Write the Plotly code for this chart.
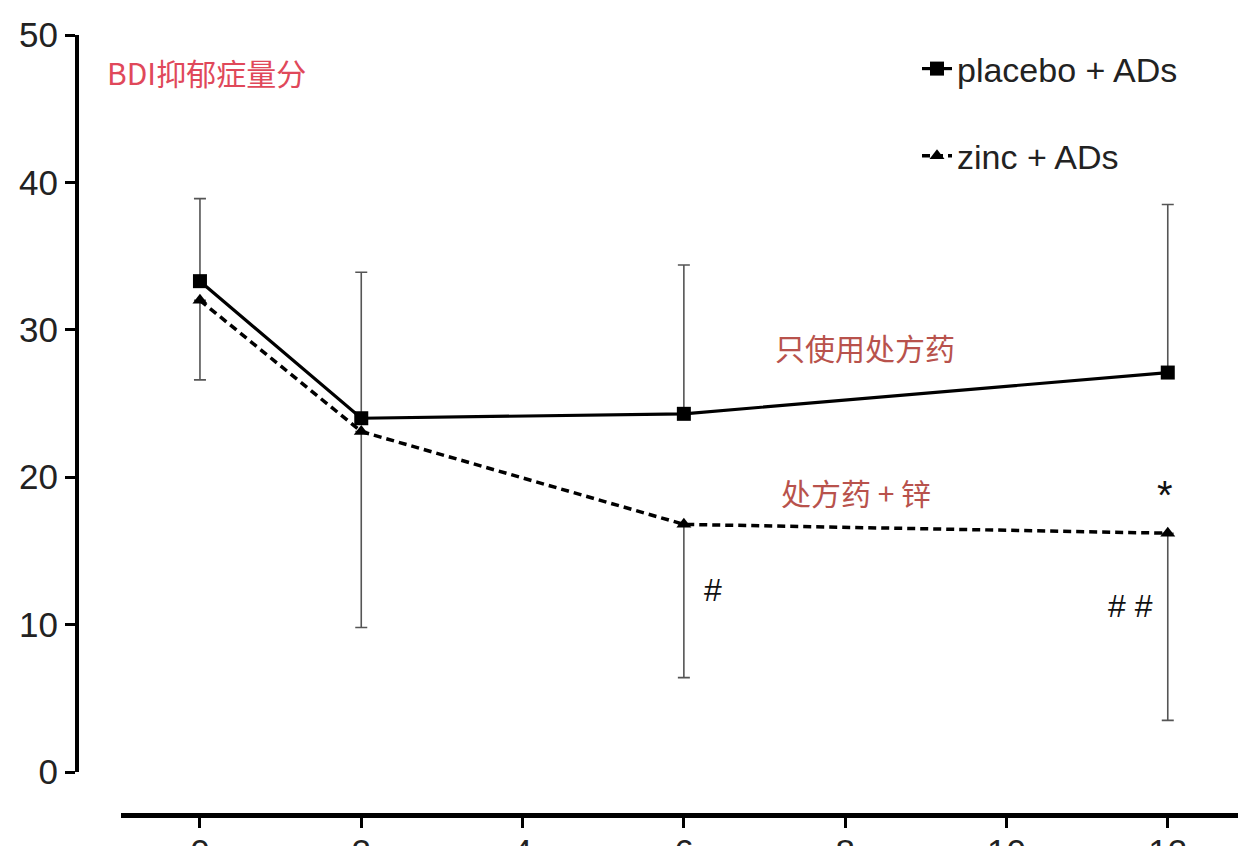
import plotly.graph_objects as go

weeks = [0, 2, 6, 12]
placebo_mean = [33.3, 24.0, 24.3, 27.1]
placebo_upper = [38.9, 33.9, 34.4, 38.5]
zinc_mean = [32.0, 23.1, 16.8, 16.2]
zinc_lower = [26.6, 9.8, 6.4, 3.5]
x_ticks = [0, 2, 4, 6, 8, 10, 12]
y_ticks = [0, 10, 20, 30, 40, 50]

placebo_plus = [u - m for u, m in zip(placebo_upper, placebo_mean)]
zinc_minus = [m - l for m, l in zip(zinc_mean, zinc_lower)]

FONT = "Liberation Sans, Arial, sans-serif"
CJK = "Noto Sans CJK SC, sans-serif"

fig = go.Figure()
fig.add_trace(go.Scatter(
    x=weeks, y=zinc_mean, name="zinc + ADs", mode="lines+markers",
    line=dict(color="black", width=3.5, dash="8px,5px"),
    marker=dict(symbol="triangle-up", size=13, color="black"),
    error_y=dict(type="data", array=[0] * 4, arrayminus=zinc_minus,
                 color="#555555", thickness=1.6, width=6),
    legendgroup="b", legendrank=2, cliponaxis=False,
))
fig.add_trace(go.Scatter(
    x=weeks, y=placebo_mean, name="placebo + ADs", mode="lines+markers",
    line=dict(color="black", width=3.2),
    marker=dict(symbol="square", size=14, color="black"),
    error_y=dict(type="data", array=placebo_plus, arrayminus=[0] * 4,
                 color="#555555", thickness=1.6, width=6),
    legendgroup="a", legendrank=1, cliponaxis=False,
))

OFF = 8  # page body margin
W, H = 1246 - OFF, 846 - OFF
L, R, T, B = 77 - OFF, 0, 35 - OFF, 846 - 815
pw, ph = W - L - R, H - T - B


def px_x(p):
    return (p - OFF - L) / pw


def px_y(p):
    return (H - B - (p - OFF)) / ph


fig.update_layout(
    width=W, height=H,
    margin=dict(l=L, r=R, t=T, b=B, autoexpand=False),
    plot_bgcolor="white", paper_bgcolor="white",
    font=dict(family=FONT, color="#222222"),
    showlegend=True,
    legend=dict(x=px_x(917), y=px_y(40), xanchor="left", yanchor="top",
                font=dict(size=34, family=FONT, color="#222222"),
                tracegroupgap=40, bgcolor="rgba(0,0,0,0)"),
    xaxis=dict(
        range=[-0.979, 12.97], domain=[px_x(121), 1],
        anchor="free", position=0, automargin=False,
        tickvals=x_ticks, ticktext=[str(v) for v in x_ticks],
        showline=True, linecolor="black", linewidth=5,
        ticks="outside", ticklen=10, tickwidth=3, tickcolor="black",
        ticklabelstandoff=-6,
        showgrid=False, zeroline=False,
        tickfont=dict(size=35, family=FONT, color="#222222"),
    ),
    yaxis=dict(
        range=[0, 50], domain=[px_y(772), 1],
        anchor="free", position=0, automargin=False,
        tickvals=y_ticks, ticktext=[str(v) for v in y_ticks],
        showline=True, linecolor="black", linewidth=4,
        ticks="outside", ticklen=10, tickwidth=3, tickcolor="black",
        showgrid=False, zeroline=False,
        tickfont=dict(size=35, family=FONT, color="#222222"),
    ),
)

fig.add_annotation(x=px_x(105), y=px_y(72), xref="paper", yref="paper",
                   text="BDI抑郁症量分", showarrow=False, xanchor="left", yanchor="middle",
                   font=dict(size=30, family=CJK, color="#e0485a"))
fig.add_annotation(x=8.25, y=28.8, xref="x", yref="y", text="只使用处方药",
                   showarrow=False, font=dict(size=30, family=CJK, color="#b8524c"))
fig.add_annotation(x=8.14, y=19.0, xref="x", yref="y", text="处方药 + 锌",
                   showarrow=False, font=dict(size=30, family=CJK, color="#b8524c"))
fig.add_annotation(x=11.97, y=18.8, xref="x", yref="y", text="*",
                   showarrow=False, font=dict(size=40, family=FONT, color="#111111"))
fig.add_annotation(x=6.36, y=12.35, xref="x", yref="y", text="#",
                   showarrow=False, font=dict(size=32, family=FONT, color="#111111"))
fig.add_annotation(x=11.54, y=11.27, xref="x", yref="y", text="# #",
                   showarrow=False, font=dict(size=32, family=FONT, color="#111111"))

fig.write_html("out.html")
